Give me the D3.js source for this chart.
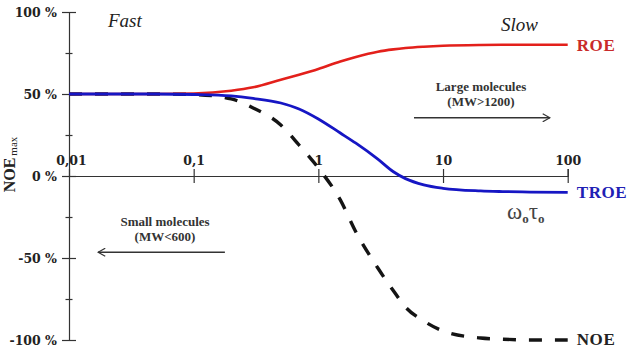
<!DOCTYPE html>
<html>
<head>
<meta charset="utf-8">
<script src="https://cdn.jsdelivr.net/npm/d3@7"></script>
<style>
  body { margin: 0; background: #fff; }
  svg { display: block; }
  .axis .tick text { font-family: 'DejaVu Serif', serif; font-weight: bold; font-size: 12.5px; fill: #222; }
  .axis .tick line, .axis .domain { stroke: #333; stroke-width: 1.2; }
  .note { font-family: 'Liberation Serif', serif; font-weight: bold; font-size: 13px; fill: #333; }
</style>
</head>
<body>
<script>
// omega0 * tau0 (log axis) and NOE max in percent
const omegaTau = [0.01, 0.02, 0.05, 0.1, 0.2, 0.3, 0.5, 0.7, 1, 1.5, 2, 3, 4, 5, 7, 10, 20, 30, 50, 100];
const roe  = [50, 50, 50, 50.3, 52, 54.1, 58.7, 61.8, 65.3, 69.8, 72.6, 75.8, 77.2, 78, 78.8, 79.4, 79.9, 80, 80, 80];
const troe = [50, 50, 50, 49.7, 48.8, 47.3, 44.5, 40.9, 34.8, 26.2, 20, 10.3, 2.6, -1.6, -5.4, -7.5, -9.1, -9.5, -9.8, -10];
const noe  = [50, 50, 50, 49.7, 47, 41.5, 31.1, 18.9, 4.9, -14.6, -34.1, -56.1, -70, -79.9, -88.4, -94.5, -98.8, -99.5, -100, -100];

const xTicks = [0.01, 0.1, 1, 10, 100];
const xTickLabels = ['0,01', '0,1', '1', '10', '100'];
const yTicks = [100, 75, 50, 25, 0, -25, -50, -75, -100];
const yTickLabels = ['100 %', '', '50 %', '', '0 %', '', '-50 %', '', '-100 %'];

const graphParams = {
        width: 633,
        height: 361,
        padTop: 12,
        padBottom: 21,
        padLeft: 69,
        padRight: 65.3,
     };
const {
    width,
    height,
    padTop,
    padBottom,
    padLeft,
    padRight
   } = graphParams;

const svg = d3.select('body').append('svg')
              .attr('width', width)
              .attr('height', height)

const x = d3.scaleLog()
            .domain([0.01, 100])
            .range([padLeft, width - padRight])
const y = d3.scaleLinear()
            .domain([-100, 100])
            .range([height - padBottom, padTop])

// y axis, major ticks both sides, minor ones shorter
const yAxis = svg.append('g')
                 .attr('class', 'axis')
                 .attr('transform', `translate(${padLeft},0)`)
                 .call(d3.axisLeft(y)
                         .tickValues(yTicks)
                         .tickSizeOuter(0)
                         .tickSize(7)
                         .tickPadding(5)
                         .tickFormat((d, i) => yTickLabels[i]))
yAxis.selectAll('.tick line')
     .attr('x1', (d, i) => yTickLabels[i] ? 7 : 3.5)
     .attr('x2', (d, i) => yTickLabels[i] ? -7 : -3.5)

// x axis on the 0 % line, labels above
const xAxis = svg.append('g')
                 .attr('class', 'axis')
                 .attr('transform', `translate(0,${y(0)})`)
                 .call(d3.axisTop(x)
                         .tickValues(xTicks)
                         .tickSizeOuter(0)
                         .tickSize(7)
                         .tickPadding(4)
                         .tickFormat((d, i) => xTickLabels[i]))
xAxis.selectAll('.tick line')
     .attr('y1', (d, i) => i === 0 ? 0 : 7)
     .attr('y2', (d, i) => i === 0 ? 0 : -7)
xAxis.selectAll('.tick text')
     .attr('dx', (d, i) => i === 0 ? 2 : 0)

const line = d3.line()
               .x(d => x(d[0]))
               .y(d => y(d[1]))
               .curve(d3.curveMonotoneX)

const series = [
   {name: 'NOE', values: noe, color: '#141414', width: 3.4, dash: '13,13', label: '#222', end: 90, dy: 5},
   {name: 'ROE', values: roe, color: '#e3201b', width: 2.6, dash: null, label: '#c92a2a', end: 100, dy: 6},
   {name: 'TROE', values: troe, color: '#1616c4', width: 2.8, dash: null, label: '#2020b4', end: 100, dy: 6},
]

series.forEach(s => {
   const pts = omegaTau.map((v, i) => [v, s.values[i]]).filter(p => p[0] <= s.end + 10)
   svg.append('path')
      .attr('d', line(pts))
      .attr('fill', 'none')
      .attr('stroke', s.color)
      .attr('stroke-width', s.width)
      .attr('stroke-dasharray', s.dash)
   svg.append('text')
      .attr('x', x(100) + 9)
      .attr('y', y(s.values[s.values.length - 1]) + s.dy)
      .attr('font-family', 'Liberation Serif, serif')
      .attr('font-weight', 'bold')
      .attr('font-size', 17)
      .attr('letter-spacing', 0.6)
      .attr('fill', s.label)
      .text(s.name)
})

// y label
const yLabel = svg.append('text')
                  .attr('transform', `translate(15,${y(7)}) rotate(-90)`)
                  .attr('text-anchor', 'middle')
                  .attr('font-family', 'Liberation Serif, serif')
                  .attr('font-weight', 'bold')
                  .attr('font-size', 16)
                  .attr('fill', '#222')
yLabel.append('tspan').text('NOE')
yLabel.append('tspan')
      .attr('font-size', 11)
      .attr('font-weight', 'normal')
      .attr('dx', 2)
      .attr('dy', 2)
      .text('max')

// Fast / Slow
svg.append('text')
   .attr('x', 108).attr('y', 27)
   .attr('font-family', 'Liberation Serif, serif')
   .attr('font-style', 'italic')
   .attr('font-size', 19)
   .attr('fill', '#222')
   .text('Fast')
svg.append('text')
   .attr('x', 501).attr('y', 31)
   .attr('font-family', 'Liberation Serif, serif')
   .attr('font-style', 'italic')
   .attr('font-size', 19)
   .attr('fill', '#222')
   .text('Slow')

// omega tau
const wt = svg.append('text')
              .attr('x', 507).attr('y', 219)
              .attr('font-family', 'Liberation Serif, serif')
              .attr('font-size', 23)
              .attr('fill', '#444')
wt.append('tspan').text('ω')
wt.append('tspan').attr('font-size', 13).attr('font-weight', 'bold').attr('dy', 4).text('o')
wt.append('tspan').attr('dy', -4).text('τ')
wt.append('tspan').attr('font-size', 13).attr('font-weight', 'bold').attr('dy', 4).text('o')

// arrows
svg.append('defs').append('marker')
   .attr('id', 'chev')
   .attr('viewBox', '0 0 10 10')
   .attr('refX', 9).attr('refY', 5)
   .attr('markerWidth', 9).attr('markerHeight', 9)
   .attr('markerUnits', 'userSpaceOnUse')
   .attr('orient', 'auto')
   .append('path')
   .attr('d', 'M1,0.5 L9,5 L1,9.5')
   .attr('fill', 'none')
   .attr('stroke', '#333')
   .attr('stroke-width', 1.3)

const notes = [
   {lines: ['Large molecules', '(MW>1200)'], from: 5.85, to: 72, level: 35.5, cx: 481, ty: 91},
   {lines: ['Small molecules', '(MW<600)'], from: 0.178, to: 0.0171, level: -46.5, cx: 165, ty: 226},
]
notes.forEach(n => {
   svg.append('line')
      .attr('x1', x(n.from)).attr('x2', x(n.to))
      .attr('y1', y(n.level)).attr('y2', y(n.level))
      .attr('stroke', '#333')
      .attr('stroke-width', 1.4)
      .attr('marker-end', 'url(#chev)')
   n.lines.forEach((t, i) => {
      svg.append('text')
         .attr('class', 'note')
         .attr('x', n.cx)
         .attr('y', n.ty + i * 14.5)
         .attr('text-anchor', 'middle')
         .text(t)
   })
})
</script>
</body>
</html>
